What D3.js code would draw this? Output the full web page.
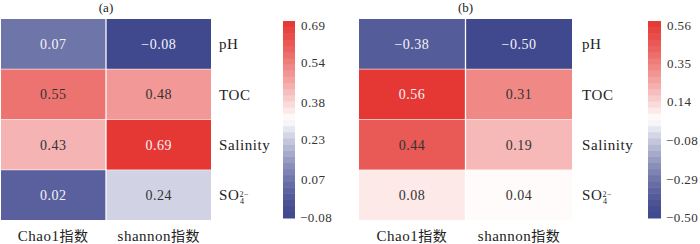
<!DOCTYPE html>
<html>
<head>
<meta charset="utf-8">
<script src="https://cdn.jsdelivr.net/npm/d3@7"></script>
<style>
  body { margin: 0; background: #fff; }
  text { font-family: "Liberation Serif", "Times New Roman", serif; }
</style>
</head>
<body>
<script>
// data
const columns = ["Chao1", "shannon"];
const rows = ["pH", "TOC", "Salinity", "SO4"];
const valuesA = [[0.07, -0.08], [0.55, 0.48], [0.43, 0.69], [0.02, 0.24]];
const valuesB = [[-0.38, -0.50], [0.56, 0.31], [0.44, 0.19], [0.08, 0.04]];
const ticksA = ["0.69", "0.54", "0.38", "0.23", "0.07", "−0.08"];
const ticksB = ["0.56", "0.35", "0.14", "−0.08", "−0.29", "−0.50"];
const rangeA = [-0.08, 0.69];
const rangeB = [-0.50, 0.56];

const blue = d3.rgb(64, 72, 142), red = d3.rgb(229, 56, 52), white = d3.rgb(255, 255, 255);

const svg = d3.select("body").append("svg")
  .attr("width", 700)
  .attr("height", 244);

// blue -> white -> red, white in the middle of the range
function makeColor(range) {
  const mid = (range[0] + range[1]) / 2;
  return v => {
    if (v <= mid) {
      const t = (v - range[0]) / (mid - range[0]);
      return d3.interpolateRgb(blue, white)(Math.pow(Math.max(0, t), 1.5));
    }
    const s = (range[1] - v) / (range[1] - mid);
    return d3.interpolateRgb(red, white)(Math.pow(Math.max(0, s), 1.2));
  };
}

function panel(opt) {
  const color = makeColor(opt.range);
  const g = svg.append("g");

  const x = d3.scaleBand().domain(columns).range(opt.xr).paddingInner(0.012);
  const y = d3.scaleBand().domain(rows).range([19, 220]).paddingInner(0.012);

  rows.forEach((r, i) => {
    columns.forEach((c, j) => {
      const v = opt.values[i][j];
      const col = color(v);
      g.append("rect")
        .attr("x", x(c)).attr("y", y(r))
        .attr("width", x.bandwidth()).attr("height", y.bandwidth())
        .attr("fill", col);
      g.append("text")
        .attr("x", x(c) + x.bandwidth() / 2)
        .attr("y", y(r) + y.bandwidth() / 2)
        .attr("dy", "0.35em")
        .attr("text-anchor", "middle")
        .style("font-size", "14px")
        .style("letter-spacing", "0.5px")
        .attr("fill", d3.lab(col).l < 55 ? "#f4f4f8" : "#333")
        .text(v < 0 ? "−" + Math.abs(v).toFixed(2) : v.toFixed(2));
    });
    // row labels
    const t = g.append("text")
      .attr("x", opt.labelX)
      .attr("y", y(r) + y.bandwidth() / 2)
      .attr("dy", "0.35em")
      .style("font-size", "15px")
      .style("letter-spacing", "0.6px")
      .attr("fill", "#222");
    if (r === "SO4") {
      t.append("tspan").text("SO");
      t.append("tspan").attr("dy", "-0.45em").style("font-size", "8px").text("2−");
      t.append("tspan").attr("dx", "-9px").attr("dy", "0.95em").style("font-size", "8px").text("4");
    } else {
      t.text(r);
    }
  });

  // column labels
  columns.forEach(c => {
    g.append("text")
      .attr("x", x(c) + x.bandwidth() / 2)
      .attr("y", 241)
      .attr("text-anchor", "middle")
      .style("font-size", "15px")
      .style("letter-spacing", "0.5px")
      .attr("fill", "#222")
      .text(c)
      .append("tspan")
      .style("font-family", "'Noto Sans CJK SC'")
      .style("font-size", "14px")
      .text("指数");
  });

  // title
  g.append("text")
    .attr("x", (opt.xr[0] + opt.xr[1]) / 2)
    .attr("y", 12)
    .attr("text-anchor", "middle")
    .style("font-size", "13px")
    .attr("fill", "#222")
    .text(opt.title);

  // colour bar, drawn as discrete bands
  const nBands = 32;
  const barScale = d3.scaleLinear().domain(opt.range).range([218, 21]);
  const step = (opt.range[1] - opt.range[0]) / nBands;
  d3.range(nBands).forEach(k => {
    const v0 = opt.range[0] + k * step;
    g.append("rect")
      .attr("x", opt.barX)
      .attr("y", barScale(v0 + step))
      .attr("width", opt.barW)
      .attr("height", barScale(v0) - barScale(v0 + step) + 0.5)
      .attr("fill", color(v0 + step / 2));
  });

  const tickScale = d3.scaleLinear().domain(opt.range).range([217, 25]);
  opt.ticks.forEach(s => {
    const v = +s.replace("−", "-");
    g.append("text")
      .attr("x", opt.barX + opt.barW + (s[0] === "−" ? 5 : 6))
      .attr("y", tickScale(v))
      .attr("dy", "0.35em")
      .style("font-size", "13px")
      .style("letter-spacing", "0.4px")
      .attr("fill", "#333")
      .text(s);
  });
}

panel({ values: valuesA, range: rangeA, ticks: ticksA, xr: [1, 211], labelX: 219, barX: 283, barW: 12, title: "(a)" });
panel({ values: valuesB, range: rangeB, ticks: ticksB, xr: [359, 572], labelX: 582, barX: 648, barW: 13, title: "(b)" });
</script>
</body>
</html>
